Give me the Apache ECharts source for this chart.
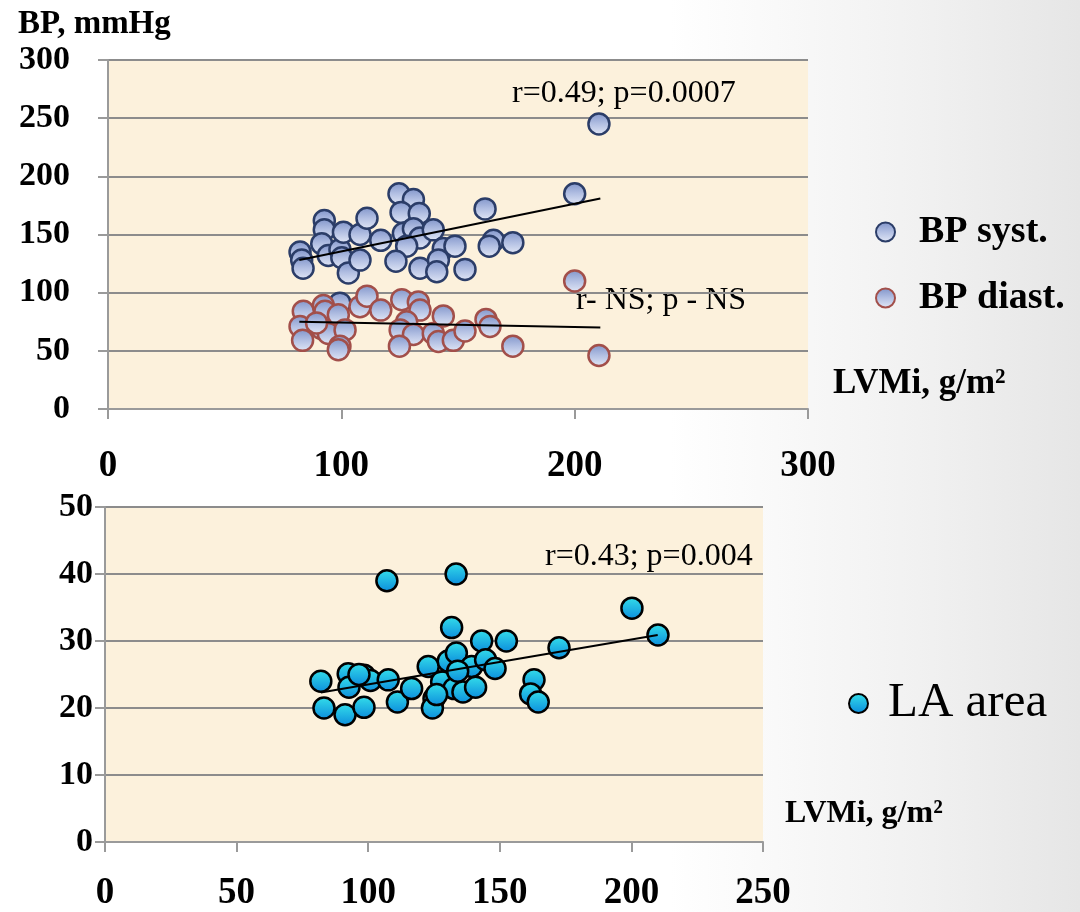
<!DOCTYPE html>
<html>
<head>
<meta charset="utf-8">
<script src="https://cdn.jsdelivr.net/npm/echarts@6/dist/echarts.min.js"></script>
<style>
html,body{margin:0;padding:0;}
body{width:1080px;height:912px;background:linear-gradient(to right,#ffffff 0%,#ffffff 62%,#f1f1f1 85%,#e6e6e6 100%);}
#c{width:1080px;height:912px;}
</style>
</head>
<body>
<div id="c"></div>
<script>
// ---- Data ----
const systX = [82.3,83,83.6,92.7,92.7,91.6,94.4,99.4,100.9,100.2,103,108,108,111,116.9,124.7,130.9,125.6,133.4,126.6,130.9,133.7,128,123.4,133.7,139.4,143.7,148.7,141.6,140.9,153,161.6,165.2,163.4,173.5,200,210.4,99.4];
const systY = [135,128,121,162,154,142,132,137,152,130,117,128,150,164,145,185,180,169,168,151,155,147,140,127,121,154,138,140,128,118,120,172,145,140,143,185,245,91];
const diastX = [83.7,82.3,83.4,92.3,93,91.6,94.4,98.7,101.6,99.4,98.7,108,111,116.9,125.9,133,133.7,128,125.2,130.9,124.9,139.4,143.7,141.6,148,153,162,163.7,173.5,200,210.4,89.4];
const diastY = [84,71,59,89,84,69,65,81,68,54,51,88,97,85,94,92,85,75,68,64,54,65,80,58,59,67,77,71,54,110,46,74];
const laX = [82,83.2,92.4,92.7,91.2,98.4,98.4,100.9,107.6,111.1,116.5,122.8,125,124.4,127.9,130.4,133.5,131.7,132.6,136,139.3,140.8,143.1,144.6,148.2,152.5,163,161.7,164.6,107.1,133.4,172.5,200.2,210.1,96.5,134,126];
const laY = [24,20,25.1,23.1,19,20.1,24.9,24.1,24.2,20.9,22.9,26.2,21.4,20,23.9,27,28.2,32,22.9,22.4,26.2,23.1,30,27.2,25.9,30,24.2,22.1,20.9,39,40,29,34.9,30.9,25,25.5,22];
const trendSystX = [82, 211], trendSystY = [128, 181];
const trendDiastX = [82, 211], trendDiastY = [75, 70];
const trendLaX = [82, 210], trendLaY = [22.3, 30.9];
const topXTicks = [0, 300, 100];   // min, max, interval
const topYTicks = [0, 300, 50];
const botXTicks = [0, 250, 50];
const botYTicks = [0, 50, 10];
const seriesNames = ['BP syst.', 'BP diast.', 'LA area'];
const notes = ['r=0.49; p=0.0007', 'r- NS; p - NS', 'r=0.43; p=0.004'];

const zip = (a, b) => a.map((v, i) => [v, b[i]]);
const F = 'Liberation Serif';
const blueFill = {type:'linear',x:0,y:0,x2:0,y2:1,colorStops:[{offset:0,color:'#7f93c9'},{offset:0.5,color:'#b3c0e3'},{offset:1,color:'#e4e9f7'}]};
const cyanFill = {type:'linear',x:0,y:0,x2:0,y2:1,colorStops:[{offset:0,color:'#35e0ea'},{offset:1,color:'#0b8bdc'}]};

function xAx(idx, t, margin) {
  return {gridIndex: idx, type:'value', min:t[0], max:t[1], interval:t[2],
    axisLine:{show:true, onZero:false, lineStyle:{color:'#9a9a9a', width:2}},
    axisTick:{show:true, length:10, lineStyle:{color:'#9a9a9a', width:2}},
    splitLine:{show:false},
    axisLabel:{margin:margin, fontFamily:F, fontWeight:'bold', fontSize:37, color:'#000'}};
}
function yAx(idx, t, margin, fs) {
  return {gridIndex: idx, type:'value', min:t[0], max:t[1], interval:t[2],
    axisLine:{show:true, lineStyle:{color:'#9a9a9a', width:2}},
    axisTick:{show:true, length:10, lineStyle:{color:'#9a9a9a', width:2}},
    splitLine:{show:true, lineStyle:{color:'#8c8c8c', width:2}},
    axisLabel:{margin:margin, fontFamily:F, fontWeight:'bold', fontSize:fs, color:'#000'}};
}
function scatter(name, xi, data, border, fill, bw) {
  return {name:name, type:'scatter', xAxisIndex:xi, yAxisIndex:xi, data:data,
    symbol:'circle', symbolSize:21,
    itemStyle:{color:fill, borderColor:border, borderWidth:bw, opacity:1},
    emphasis:{disabled:true}, z:2};
}
function trend(xi, xs, ys, w) {
  return {type:'line', xAxisIndex:xi, yAxisIndex:xi, data:zip(xs, ys), symbol:'none',
    lineStyle:{color:'#000', width:w}, silent:true, z:5, emphasis:{disabled:true}};
}

const chart = echarts.init(document.getElementById('c'), null, {renderer:'canvas'});
chart.setOption({
  animation:false,
  grid:[
    {left:108, top:60, width:700, height:349, show:true, backgroundColor:'#fcf1dc', borderWidth:0},
    {left:105, top:507, width:658, height:335, show:true, backgroundColor:'#fcf1dc', borderWidth:0}
  ],
  xAxis:[xAx(0, topXTicks, 39), xAx(1, botXTicks, 33)],
  yAxis:[yAx(0, topYTicks, 38, 34), yAx(1, botYTicks, 12, 34)],
  legend:[
    {data:[seriesNames[0], seriesNames[1]], orient:'vertical', left:870, top:207, itemGap:26,
     icon:'circle', itemWidth:19, itemHeight:19, selectedMode:false,
     textStyle:{fontFamily:F, fontWeight:'bold', fontSize:38, lineHeight:40, color:'#000', padding:[0,0,0,19]}},
    {data:[seriesNames[2]], orient:'vertical', left:843, top:674, icon:'circle', itemWidth:19, itemHeight:19,
     selectedMode:false,
     textStyle:{fontFamily:F, fontSize:49, lineHeight:48, color:'#000', padding:[0,0,0,15]}}
  ],
  graphic:[
    {type:'text', left:18, top:8, style:{text:'BP, mmHg', font:'bold 33px "Liberation Serif"', fill:'#000'}},
    {type:'text', left:833, top:366, style:{text:'LVMi, g/m²', font:'bold 35px "Liberation Serif"', fill:'#000'}},
    {type:'text', left:785, top:798, style:{text:'LVMi, g/m²', font:'bold 32px "Liberation Serif"', fill:'#000'}},
    {type:'text', left:512, top:78, style:{text:notes[0], font:'32px "Liberation Serif"', fill:'#000'}},
    {type:'text', left:576, top:285, style:{text:notes[1], font:'32px "Liberation Serif"', fill:'#000'}},
    {type:'text', left:545, top:541, style:{text:notes[2], font:'32px "Liberation Serif"', fill:'#000'}}
  ],
  series:[
    scatter(seriesNames[0], 0, zip(systX, systY), '#2b3d68', blueFill, 2.5),
    scatter(seriesNames[1], 0, zip(diastX, diastY), '#a24f4a', blueFill, 2.5),
    trend(0, trendSystX, trendSystY, 2),
    trend(0, trendDiastX, trendDiastY, 2),
    scatter(seriesNames[2], 1, zip(laX, laY), '#000000', cyanFill, 2.5),
    trend(1, trendLaX, trendLaY, 2)
  ]
});
</script>
</body>
</html>
